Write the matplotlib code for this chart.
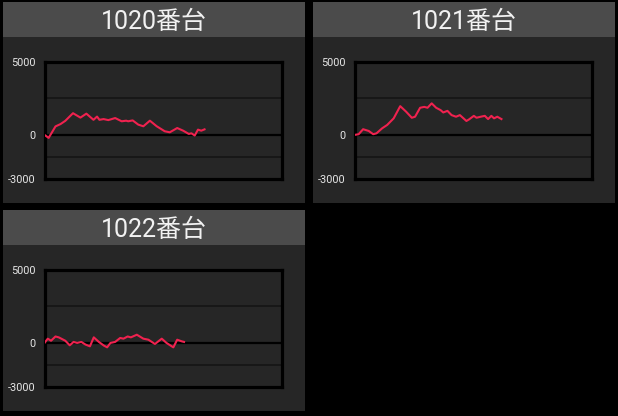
import matplotlib
matplotlib.use("Agg")
import matplotlib.pyplot as plt
from matplotlib.patches import Rectangle

plt.rcParams['font.family'] = ['Roboto', 'Noto Sans CJK JP', 'DejaVu Sans']

titles = ["1020番台", "1021番台", "1022番台"]
ytick_vals = [-3000, 0, 5000]
ytick_labels = ["-3000", "0", "5000"]
grid_vals = [2500, -1500]

games_1020 = [0, 140, 370, 540, 700, 960, 1210, 1410, 1650, 1770, 1850, 1990, 2150,
              2380, 2600, 2750, 2820, 2970, 3160, 3330, 3550, 3780, 4050, 4220, 4470,
              4670, 4860, 4950, 5060, 5170, 5280, 5390]
diff_1020 = [0, -200, 580, 740, 960, 1480, 1180, 1450, 1030, 1250, 1030, 1080, 1010,
             1150, 930, 970, 930, 990, 700, 590, 970, 590, 250, 180, 470,
             290, 70, 110, -40, 360, 290, 380]

games_1021 = [0, 140, 290, 480, 630, 740, 930, 1100, 1320, 1540, 1740, 1930, 2040,
              2210, 2350, 2460, 2600, 2750, 2900, 2990, 3130, 3270, 3420, 3550, 3770,
              3860, 4020, 4110, 4250, 4390, 4500, 4610, 4700, 4810, 4950]
diff_1021 = [0, 50, 390, 270, 50, 110, 450, 680, 1130, 1960, 1580, 1170, 1240,
             1850, 1910, 1850, 2150, 1850, 1690, 1530, 1640, 1350, 1240, 1350, 950,
             1060, 1300, 1170, 1240, 1300, 1080, 1300, 1130, 1240, 1080]

games_1022 = [0, 110, 220, 370, 480, 700, 850, 980, 1100, 1240, 1380, 1530, 1660,
              1830, 2000, 2110, 2220, 2380, 2550, 2660, 2800, 2910, 3110, 3330, 3500,
              3720, 3950, 4110, 4340, 4470, 4620, 4700]
diff_1022 = [0, 290, 150, 440, 380, 150, -160, 70, 0, 70, -110, -230, 380,
             70, -180, -300, 0, 70, 340, 290, 440, 380, 560, 290, 220,
             -70, 290, 0, -300, 220, 110, 70]

series_games = [games_1020, games_1021, games_1022]
series_diff = [diff_1020, diff_1021, diff_1022]

W, H = 618, 416
fig = plt.figure(figsize=(W / 100, H / 100), dpi=100, facecolor="black")

def frac(x0, y0, x1, y1):
    return [x0 / W, 1 - y1 / H, (x1 - x0) / W, (y1 - y0) / H]

panels = [(3, 2), (313, 2), (3, 210)]
PW, PH, TH = 302, 201, 35

for i, (px, py) in enumerate(panels):
    bg = fig.add_axes(frac(px, py, px + PW, py + PH))
    bg.set_xlim(0, PW)
    bg.set_ylim(PH, 0)
    bg.axis("off")
    bg.add_patch(Rectangle((0, 0), PW, PH, facecolor="#262626", edgecolor="none"))
    bg.add_patch(Rectangle((0, 0), PW, TH, facecolor="#4b4b4b", edgecolor="none"))
    bg.text(PW / 2, TH / 2 + 2.5, titles[i], ha="center", va="center",
            fontsize=18, color="#f2f2f2")

    ax = fig.add_axes(frac(px + 41.5, py + 59.5, px + 279, py + 177))
    ax.set_facecolor("#262626")
    ax.set_xlim(0, 8000)
    ax.set_ylim(-3000, 5000)
    for s in ax.spines.values():
        s.set_color("black")
        s.set_linewidth(2.3)
    for g in grid_vals:
        ax.axhline(g, color="#141414", lw=1.2, zorder=1)
    ax.axhline(0, color="black", lw=1.6, zorder=1)
    ax.plot(series_games[i], series_diff[i], color="#f0224f", lw=1.5, zorder=3)
    ax.set_xticks([])
    ax.set_yticks(ytick_vals)
    ax.set_yticklabels(ytick_labels)
    ax.tick_params(axis="y", length=0, pad=6.5, labelsize=7.8, labelcolor="#e6e6e6")

fig.savefig("out.png", dpi=100, facecolor="black")
